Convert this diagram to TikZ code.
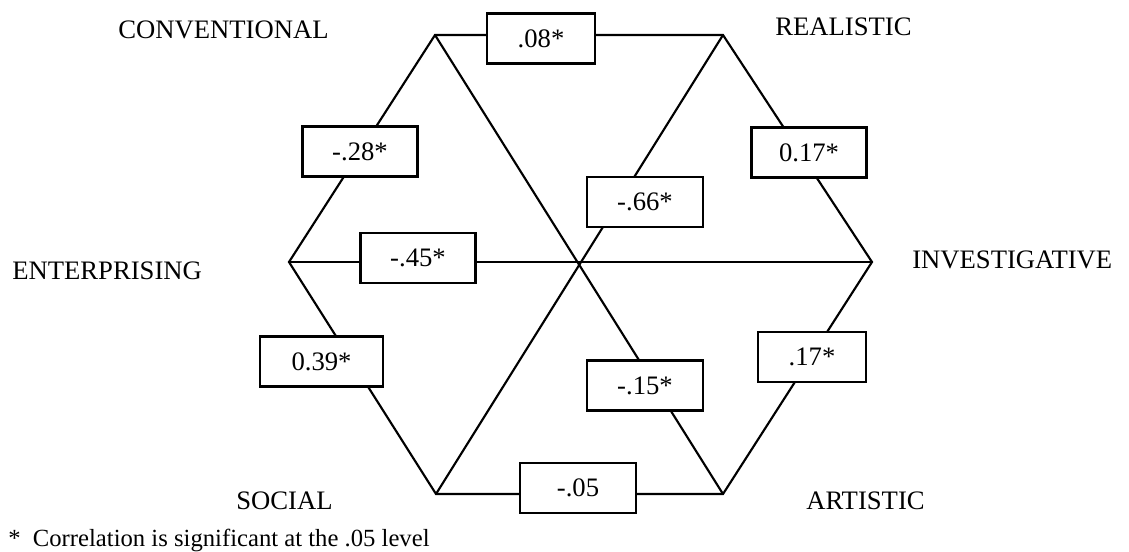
\documentclass[tikz,border=0pt]{standalone}
\usepackage{fontspec}
\setmainfont{Liberation Serif}
\begin{document}
\begin{tikzpicture}[x=0.75pt,y=-0.75pt,
  edge/.style={line width=1.6pt,line join=miter},
  valbox/.style={draw,line width=1.8pt,fill=white,inner sep=0pt,minimum height=37.5pt,
    font=\fontsize{20}{22}\selectfont},
  lbl/.style={inner sep=0pt,anchor=west,font=\fontsize{20}{22}\selectfont}]
\useasboundingbox (0,0) rectangle (1129,551);
% vertices
\coordinate (TL) at (435,35);
\coordinate (TR) at (723,35);
\coordinate (R) at (872,262);
\coordinate (BR) at (723,494);
\coordinate (BL) at (436,494);
\coordinate (L) at (289,262);
% hexagon and diagonals
\draw[edge] (TL) -- (TR) -- (R) -- (BR) -- (BL) -- (L) -- cycle;
\draw[edge] (TL) -- (BR);
\draw[edge] (TR) -- (BL);
\draw[edge] (L) -- (R);
% value boxes
\node[valbox,minimum width=81pt] (b08) at (541,38.5) {.08*};
\node[valbox,minimum width=86pt] (b28) at (360,151.5) {-.28*};
\node[valbox,minimum width=86pt] (b017) at (809,152.5) {0.17*};
\node[valbox,minimum width=87pt] (b66) at (645,202) {-.66*};
\node[valbox,minimum width=86pt] (b45) at (418,258) {-.45*};
\node[valbox,minimum width=92pt] (b39) at (321.5,361.5) {0.39*};
\node[valbox,minimum width=81pt] (b17) at (812,357) {.17*};
\node[valbox,minimum width=87pt] (b15) at (645,385.5) {-.15*};
\node[valbox,minimum width=87pt] (b05) at (578,488) {-.05};
% type labels
\node[lbl] (conv) at (118,30) {CONVENTIONAL};
\node[lbl] (real) at (775,27) {REALISTIC};
\node[lbl] (inv) at (912,260) {INVESTIGATIVE};
\node[lbl] (ent) at (12,271) {ENTERPRISING};
\node[lbl] (soc) at (236,501) {SOCIAL};
\node[lbl] (art) at (806,501) {ARTISTIC};
% footnote
\node[inner sep=0pt,anchor=base west,font=\fontsize{18.5}{20}\selectfont] (note) at (8,546) {*\ \ Correlation is significant at the .05 level};
\end{tikzpicture}
\end{document}
